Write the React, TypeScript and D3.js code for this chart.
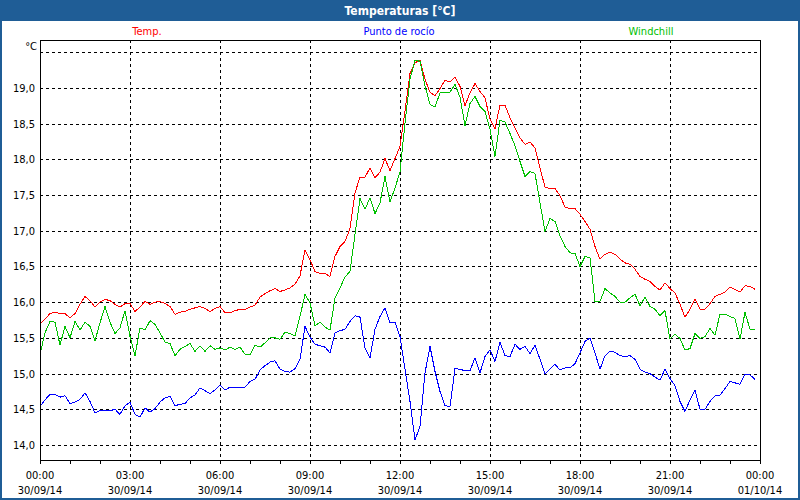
import React, { useEffect, useRef } from 'react';
import * as d3 from 'd3';

// 10-minute readings, 30/09/14 00:00 .. 23:50
const startTime = new Date(2014, 8, 30, 0, 0);
const endTime = new Date(2014, 9, 1, 0, 0);
const stepMinutes = 10;

const temp = [
  15.69, 15.76, 15.84, 15.86, 15.84, 15.84, 15.78, 15.84, 15.97, 16.08, 16.02, 15.93,
  16.0, 16.04, 16.02, 15.97, 15.93, 15.98, 15.98, 15.87, 15.93, 16.01, 15.97, 16.0,
  16.01, 15.98, 15.94, 15.83, 15.86, 15.87, 15.9, 15.92, 15.94, 15.91, 15.87, 15.91,
  15.94, 15.85, 15.85, 15.88, 15.9, 15.9, 15.93, 15.96, 16.07, 16.12, 16.16, 16.19,
  16.15, 16.17, 16.2, 16.25, 16.37, 16.73, 16.59, 16.43, 16.4, 16.4, 16.36, 16.64,
  16.78, 16.85, 17.03, 17.53, 17.75, 17.75, 17.88, 17.74, 17.82, 18.01, 17.84, 18.01,
  18.18, 18.68, 19.2, 19.35, 19.39, 19.12, 18.94, 18.89, 18.99, 19.11, 19.08, 19.15,
  19.02, 18.75, 18.93, 19.06, 18.95, 18.86, 18.56, 18.43, 18.76, 18.76, 18.58, 18.44,
  18.3, 18.21, 18.24, 18.16, 17.88, 17.61, 17.59, 17.59, 17.49, 17.33, 17.31, 17.31,
  17.23, 17.13, 17.02, 16.78, 16.6, 16.67, 16.7, 16.67, 16.6, 16.55, 16.53, 16.46,
  16.36, 16.32, 16.29, 16.22, 16.17, 16.27, 16.19, 16.13, 15.97, 15.79, 15.9, 16.04,
  15.9, 15.9, 15.98, 16.08, 16.11, 16.14, 16.21, 16.18, 16.14, 16.23, 16.22, 16.18
];

const dewPoint = [
  14.54, 14.63, 14.71, 14.71, 14.67, 14.69, 14.58, 14.6, 14.64, 14.73, 14.61, 14.45,
  14.48, 14.48, 14.48, 14.5, 14.43, 14.55, 14.6, 14.43, 14.39, 14.52, 14.46, 14.51,
  14.6, 14.66, 14.68, 14.55, 14.57, 14.58, 14.66, 14.7, 14.8, 14.76, 14.72, 14.77,
  14.84, 14.77, 14.81, 14.81, 14.81, 14.81, 14.89, 14.92, 15.05, 15.11, 15.16, 15.18,
  15.06, 15.03, 15.02, 15.07, 15.2, 15.66, 15.51, 15.41, 15.39, 15.37, 15.29, 15.57,
  15.6, 15.62, 15.73, 15.81, 15.79, 15.36, 15.22, 15.62, 15.8, 15.92, 15.71, 15.72,
  15.52, 15.06, 14.61, 14.07, 14.26, 15.01, 15.38, 15.03, 14.75, 14.55, 14.54, 15.07,
  15.06, 15.04, 15.04, 15.22, 15.01, 15.24, 15.33, 15.17, 15.44, 15.25, 15.24, 15.41,
  15.34, 15.38, 15.28, 15.4, 15.2, 14.99, 15.06, 15.13, 15.05, 15.08, 15.08, 15.14,
  15.29, 15.45, 15.5, 15.29, 15.06, 15.25, 15.31, 15.3, 15.25, 15.24, 15.25, 15.2,
  15.06, 15.02, 15.0, 14.95, 14.91, 15.06, 14.93, 14.83, 14.61, 14.47, 14.63, 14.77,
  14.5, 14.5, 14.61, 14.69, 14.7, 14.79, 14.89, 14.87, 14.85, 14.99, 14.98, 14.92
];

const windchill = [
  15.27, 15.57, 15.73, 15.72, 15.4, 15.66, 15.5, 15.73, 15.61, 15.72, 15.66, 15.46,
  15.71, 15.94, 15.72, 15.56, 15.64, 15.88, 15.52, 15.25, 15.64, 15.61, 15.74, 15.69,
  15.57, 15.44, 15.42, 15.25, 15.34, 15.38, 15.42, 15.31, 15.39, 15.31, 15.39, 15.34,
  15.36, 15.33, 15.37, 15.34, 15.37, 15.27, 15.26, 15.4, 15.37, 15.43, 15.5, 15.5,
  15.48, 15.58, 15.56, 15.53, 15.8, 16.11, 15.99, 15.67, 15.72, 15.65, 15.61, 16.06,
  16.2, 16.35, 16.43, 16.95, 17.45, 17.3, 17.46, 17.24, 17.39, 17.76, 17.4, 17.6,
  17.82, 18.51, 19.12, 19.39, 19.37, 19.03, 18.77, 18.73, 18.93, 18.93, 18.94, 19.05,
  18.87, 18.47, 18.78, 18.88, 18.74, 18.67, 18.42, 18.04, 18.55, 18.52, 18.36, 18.19,
  17.97, 17.76, 17.83, 17.8, 17.39, 16.99, 17.17, 17.13, 16.93, 16.78, 16.69, 16.68,
  16.5, 16.64, 16.62, 16.01, 16.01, 16.19, 16.13, 16.08, 16.0, 16.0, 16.06, 16.11,
  15.95, 16.07, 15.94, 15.9, 15.81, 15.88, 15.48, 15.55, 15.49, 15.33, 15.35, 15.56,
  15.49, 15.52, 15.63, 15.54, 15.83, 15.83, 15.8, 15.77, 15.48, 15.86, 15.62, 15.62
];

const seriesNames = ['Temp.', 'Punto de rocío', 'Windchill'];
const gridValues = [14.0, 14.5, 15.0, 15.5, 16.0, 16.5, 17.0, 17.5, 18.0, 18.5, 19.0, 19.5];
const labelValues = [14.0, 14.5, 15.0, 15.5, 16.0, 16.5, 17.0, 17.5, 18.0, 18.5, 19.0];
const yDomain = [13.79, 19.67];

const colors = ['#ff0000', '#0000ff', '#00c000'];
const FONT = "Tahoma, 'DejaVu Sans Condensed', 'DejaVu Sans', sans-serif";

const TemperatureChart: React.FC = () => {
  const svgRef = useRef<SVGSVGElement>(null);
  const width = 800;
  const height = 500;

  useEffect(() => {
    if (!svgRef.current) return;
    const svg = d3.select(svgRef.current);
    svg.selectAll('*').remove();

    const margin = { top: 40, right: 40, bottom: 40, left: 40 };
    const innerWidth = width - margin.left - margin.right;
    const innerHeight = height - margin.top - margin.bottom;

    svg.append('rect').attr('width', width).attr('height', height).attr('fill', '#ffffff');

    // title bar + window frame
    svg.append('rect').attr('width', width).attr('height', 21).attr('fill', '#1f5d96');
    svg.append('rect')
      .attr('x', 1).attr('y', 1).attr('width', width - 2).attr('height', height - 2)
      .attr('fill', 'none').attr('stroke', '#1f5d96').attr('stroke-width', 2);
    svg.append('text')
      .attr('x', width / 2).attr('y', 15)
      .attr('text-anchor', 'middle')
      .style('font-family', FONT).style('font-size', '12px').style('font-weight', 'bold')
      .style('fill', '#ffffff')
      .text('Temperaturas [°C]');

    const x = d3.scaleTime().domain([startTime, endTime]).range([margin.left, margin.left + innerWidth]);
    const y = d3.scaleLinear().domain(yDomain).range([margin.top + innerHeight, margin.top]);
    const px = (v: number) => Math.round(v) + 0.5;

    const g = svg.append('g').attr('shape-rendering', 'crispEdges');

    // horizontal grid
    g.selectAll('.hgrid').data(gridValues).enter().append('line')
      .attr('x1', margin.left).attr('x2', margin.left + innerWidth)
      .attr('y1', d => px(y(d))).attr('y2', d => px(y(d)))
      .attr('stroke', '#000').attr('stroke-dasharray', '3,3');

    // vertical grid every 3 hours
    const majorTicks = d3.timeHour.every(3)!.range(startTime, d3.timeMinute.offset(endTime, 1));
    g.selectAll('.vgrid').data(majorTicks.slice(1, -1)).enter().append('line')
      .attr('x1', d => px(x(d))).attr('x2', d => px(x(d)))
      .attr('y1', margin.top).attr('y2', margin.top + innerHeight)
      .attr('stroke', '#000').attr('stroke-dasharray', '3,3');

    // hourly ticks
    const hourTicks = d3.timeHour.every(1)!.range(startTime, d3.timeMinute.offset(endTime, 1));
    g.selectAll('.xtick').data(hourTicks).enter().append('line')
      .attr('x1', d => px(x(d))).attr('x2', d => px(x(d)))
      .attr('y1', margin.top + innerHeight).attr('y2', margin.top + innerHeight + 4)
      .attr('stroke', '#000');

    // series
    const timeAt = (i: number) => d3.timeMinute.offset(startTime, i * stepMinutes);
    const line = d3.line<number>()
      .x((_, i) => x(timeAt(i)))
      .y(d => y(d));
    [temp, dewPoint, windchill].forEach((s, k) => {
      g.append('path')
        .datum(s)
        .attr('d', line)
        .attr('fill', 'none')
        .attr('stroke', colors[k])
        .attr('stroke-width', 1);
    });

    // plot frame
    g.append('rect')
      .attr('x', margin.left + 0.5).attr('y', margin.top + 0.5)
      .attr('width', innerWidth).attr('height', innerHeight)
      .attr('fill', 'none').attr('stroke', '#000');

    // y labels
    svg.selectAll('.ylab').data(labelValues).enter().append('text')
      .attr('x', 35).attr('y', d => px(y(d)))
      .attr('dy', '0.35em')
      .attr('text-anchor', 'end')
      .style('font-family', FONT).style('font-size', '11px').style('fill', '#000')
      .text(d => d3.format('.1f')(d).replace('.', ','));

    svg.append('text')
      .attr('x', 37).attr('y', 50)
      .attr('text-anchor', 'end')
      .style('font-family', FONT).style('font-size', '11px').style('fill', '#000')
      .text('°C');

    // x labels
    const fmtTime = d3.timeFormat('%H:%M');
    const fmtDate = d3.timeFormat('%d/%m/%y');
    const xl = svg.selectAll('.xlab').data(majorTicks).enter().append('g');
    xl.append('text')
      .attr('x', d => x(d)).attr('y', 478.5)
      .attr('text-anchor', 'middle')
      .style('font-family', FONT).style('font-size', '11px').style('fill', '#000')
      .text(d => fmtTime(d));
    xl.append('text')
      .attr('x', d => x(d)).attr('y', 494)
      .attr('text-anchor', 'middle')
      .style('font-family', FONT).style('font-size', '11px').style('fill', '#000')
      .text(d => fmtDate(d));

    // legend
    const legendX = d3.scalePoint<string>().domain(seriesNames).range([147, 651]);
    svg.selectAll('.legend').data(seriesNames).enter().append('text')
      .attr('x', d => legendX(d)!).attr('y', 35)
      .attr('text-anchor', 'middle')
      .style('font-family', FONT).style('font-size', '11px')
      .style('fill', (_, i) => colors[i])
      .text(d => d);
  }, []);

  return <svg ref={svgRef} width={width} height={height} style={{ display: 'block' }} />;
};

export default function App() {
  return (
    <div>
      <style>{'body{margin:0}'}</style>
      <TemperatureChart />
    </div>
  );
}
